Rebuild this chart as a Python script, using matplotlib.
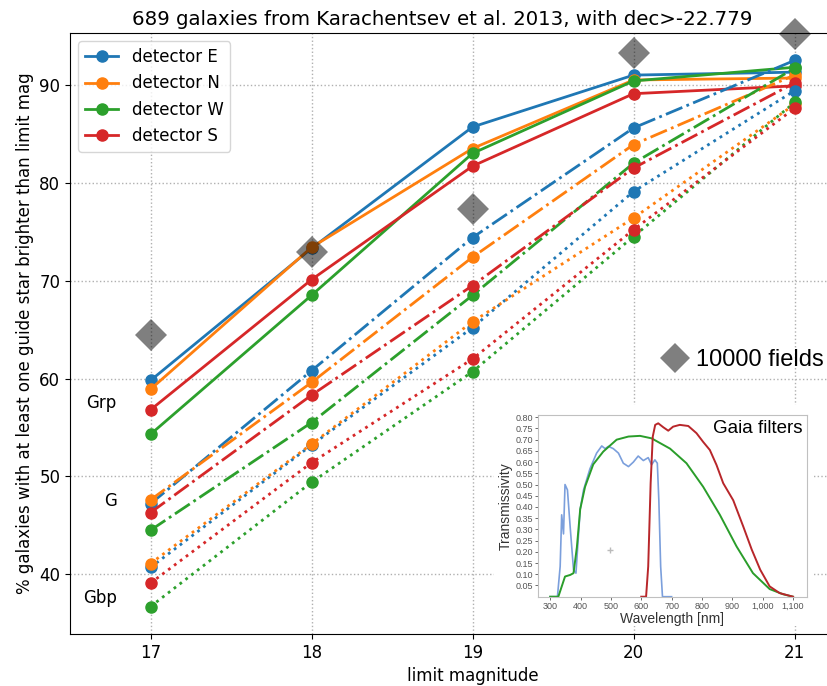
import numpy as np
import matplotlib
matplotlib.use("Agg")
import matplotlib.pyplot as plt
from matplotlib.lines import Line2D
from matplotlib.patches import Rectangle
from matplotlib.ticker import FuncFormatter

# limit magnitudes
mags = [17, 18, 19, 20, 21]
detectors = ["E", "N", "W", "S"]
colors = {"E": "#1f77b4", "N": "#ff7f0e", "W": "#2ca02c", "S": "#d62728"}

# % galaxies with a guide star, per filter and detector
grp = {"E": [59.8, 73.3, 85.7, 91.0, 91.3],
       "N": [58.9, 73.4, 83.5, 90.5, 90.7],
       "W": [54.3, 68.5, 83.0, 90.4, 91.8],
       "S": [56.8, 70.1, 81.7, 89.1, 89.9]}
g = {"E": [47.2, 60.8, 74.4, 85.6, 92.5],
     "N": [47.6, 59.6, 72.4, 83.9, 91.0],
     "W": [44.5, 55.5, 68.5, 82.0, 91.7],
     "S": [46.3, 58.3, 69.5, 81.5, 90.2]}
gbp = {"E": [40.7, 53.2, 65.2, 79.1, 89.4],
       "N": [41.1, 53.3, 65.8, 76.4, 88.0],
       "W": [36.7, 49.4, 60.7, 74.5, 88.2],
       "S": [39.1, 51.4, 62.0, 75.2, 87.6]}
fields_10000 = [64.4, 72.9, 77.3, 93.3, 95.2]

# Gaia filter curves (wavelength nm, transmissivity)
bp_nm = [300, 324, 333, 338, 344, 349, 357, 366, 377, 385, 399, 410, 431, 453, 470, 481,
         492, 508, 525, 541, 558, 574, 590, 607, 623, 634, 645, 653, 658, 664, 670, 700]
bp_t = [0.0, 0.0, 0.135, 0.365, 0.28, 0.50, 0.476, 0.31, 0.12, 0.105, 0.39, 0.476, 0.57,
        0.64, 0.672, 0.66, 0.67, 0.66, 0.64, 0.595, 0.58, 0.60, 0.627, 0.607, 0.62, 0.588,
        0.61, 0.595, 0.43, 0.135, 0.0, 0.0]
g_nm = [300, 327, 338, 349, 366, 377, 388, 399, 415, 442, 475, 519, 558, 596, 634, 695,
        749, 804, 859, 914, 968, 1023, 1067, 1100]
g_t = [0.0, 0.0, 0.045, 0.09, 0.097, 0.105, 0.22, 0.39, 0.49, 0.59, 0.647, 0.70, 0.714,
       0.717, 0.706, 0.66, 0.595, 0.49, 0.365, 0.224, 0.105, 0.034, 0.011, 0.0]
rp_nm = [600, 616, 623, 631, 638, 646, 656, 673, 689, 705, 727, 755, 782, 804, 826, 848,
         870, 903, 936, 964, 992, 1023, 1056, 1100]
rp_t = [0.0, 0.0, 0.135, 0.506, 0.714, 0.766, 0.773, 0.755, 0.74, 0.758, 0.766, 0.761,
        0.729, 0.69, 0.654, 0.587, 0.506, 0.43, 0.313, 0.21, 0.12, 0.046, 0.016, 0.0]
cursor_mark = [497, 0.21]

W, H = 827, 686
fig = plt.figure(figsize=(W / 100, H / 100), dpi=100)
plt.rcParams['font.size'] = 12

ax = fig.add_axes([70 / W, 1 - 634 / H, 805 / W, 601 / H])

handles = []
for det in detectors:
    l, = ax.plot(mags, grp[det], '-o', color=colors[det], lw=2, ms=8, label="detector " + det)
    handles.append(l)
for det in detectors:
    ax.plot(mags, g[det], '-.o', color=colors[det], lw=2, ms=8)
for det in detectors:
    ax.plot(mags, gbp[det], ':o', color=colors[det], lw=2, ms=8)

ax.plot(mags, fields_10000, 'D', color='k', alpha=0.5, ms=16, mew=0, zorder=5, clip_on=False)

ax.set_xlim(16.5, 21.5)
ax.set_ylim(33.9, 95.3)
ax.set_xticks(mags)
ax.set_yticks([40, 50, 60, 70, 80, 90])
ax.spines['right'].set_visible(False)
ax.grid(True, linestyle=':', color='#b0b0b0', lw=1)
ax.set_axisbelow(True)
ax.set_xlabel("limit magnitude")
ax.set_ylabel("% galaxies with at least one guide star brighter than limit mag")
ax.set_title("689 galaxies from Karachentsev et al. 2013, with dec>-22.779",
             fontsize=14.2, x=0.462)

ax.text(16.79, 57.5, "Grp", ha='right', va='center', fontsize=12)
ax.text(16.79, 47.5, "G", ha='right', va='center', fontsize=12)
ax.text(16.79, 37.6, "Gbp", ha='right', va='center', fontsize=12)

leg1 = ax.legend(handles=handles, loc='upper left', fontsize=12)
ax.add_artist(leg1)
diamond = Line2D([], [], marker='D', ls='', color='k', alpha=0.5, ms=15, mew=0)
ax.legend(handles=[diamond], labels=["10000 fields"], loc='center right',
          bbox_to_anchor=(824 / W, 1 - 360 / H), bbox_transform=fig.transFigure,
          frameon=False, handlelength=1.0, handletextpad=0.4, borderpad=0,
          borderaxespad=0, prop={'family': 'Liberation Sans', 'size': 17})

# white panel behind the pasted-in filter plot
fig.patches.append(Rectangle((494 / W, 1 - 626 / H), 320 / W, 221 / H,
                             transform=fig.transFigure, facecolor='white',
                             edgecolor='none', zorder=1))

axi = fig.add_axes([538 / W, 1 - 596.7 / H, 268.7 / W, 181.7 / H], zorder=2)
axi.plot(bp_nm, bp_t, color='#7b9fdc', lw=1.2)
axi.plot(g_nm, g_t, color='#2a9d2a', lw=1.4)
axi.plot(rp_nm, rp_t, color='#b8262a', lw=1.4)
axi.plot(cursor_mark[0], cursor_mark[1], '+', color='#bbbbbb', ms=5)
axi.set_xlim(260, 1145)
axi.set_ylim(0, 0.81)
axi.set_xticks([300, 400, 500, 600, 700, 800, 900, 1000, 1100])
axi.set_yticks(np.arange(0.05, 0.81, 0.05))
axi.xaxis.set_major_formatter(FuncFormatter(lambda v, p: "{:,.0f}".format(v)))
axi.yaxis.set_major_formatter(FuncFormatter(lambda v, p: "{:.2f}".format(v)))
for lab in axi.get_xticklabels() + axi.get_yticklabels():
    lab.set_family('Liberation Sans')
axi.tick_params(labelsize=6.5, colors='#555555', length=2, width=0.6, pad=1.5)
for s in axi.spines.values():
    s.set_color('#c0c0c0')
axi.set_xlabel("Wavelength [nm]", fontsize=10, family='Liberation Sans', color='#333333',
               labelpad=1)
axi.set_ylabel("Transmissivity", fontsize=10, family='Liberation Sans', color='#333333',
               labelpad=2)
axi.text(0.986, 0.928, "Gaia filters", transform=axi.transAxes, ha='right', va='center',
         fontsize=13.5, family='Liberation Sans')

fig.savefig("out.png", dpi=100)
